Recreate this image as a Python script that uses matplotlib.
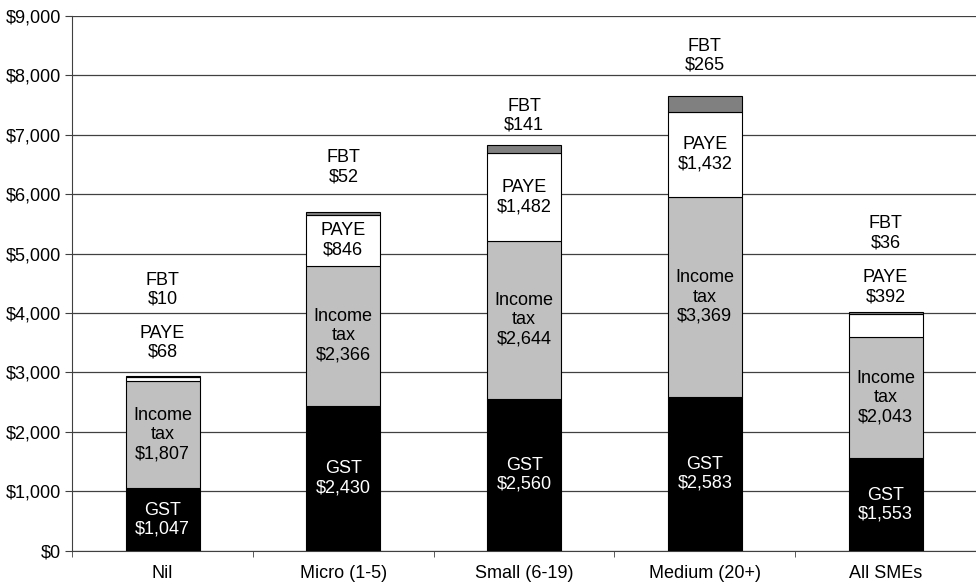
import matplotlib
matplotlib.use("Agg")
import matplotlib.pyplot as plt
import numpy as np

plt.rcParams['font.family'] = ['Liberation Sans', 'DejaVu Sans']

categories = ["Nil", "Micro (1-5)", "Small (6-19)", "Medium (20+)", "All SMEs"]
gst = [1047, 2430, 2560, 2583, 1553]
income_tax = [1807, 2366, 2644, 3369, 2043]
paye = [68, 846, 1482, 1432, 392]
fbt = [10, 52, 141, 265, 36]

# label heights (data units) for annotations placed above a bar
fbt_label_y = [4390, 6450, 7320, 8330, 5340]
paye_label_y = [3500, None, None, None, 4430]

fig = plt.figure(figsize=(9.76, 5.84), dpi=100)
ax = fig.add_axes([0.074, 0.057, 0.926, 0.916])

x = np.arange(len(categories))
w = 0.41
ec = "black"
lw = 0.8
ax.bar(x, gst, w, color="black", edgecolor=ec, linewidth=lw, zorder=3)
bottom2 = np.array(gst)
ax.bar(x, income_tax, w, bottom=bottom2, color="#c0c0c0", edgecolor=ec, linewidth=lw, zorder=3)
bottom3 = bottom2 + np.array(income_tax)
ax.bar(x, paye, w, bottom=bottom3, color="white", edgecolor=ec, linewidth=lw, zorder=3)
bottom4 = bottom3 + np.array(paye)
ax.bar(x, fbt, w, bottom=bottom4, color="#808080", edgecolor=ec, linewidth=lw, zorder=3)

fs = 13
ls = 1.16
def money(v):
    return "${:,}".format(v)

def label(xp, yp, s, color="black"):
    ax.text(xp, yp, s, ha="center", va="center", color=color, fontsize=fs,
            linespacing=ls, zorder=4)

for i in range(len(categories)):
    label(x[i], gst[i] / 2, "GST\n" + money(gst[i]), color="white")
    label(x[i], bottom2[i] + income_tax[i] / 2, "Income\ntax\n" + money(income_tax[i]))
    if paye_label_y[i] is None:
        label(x[i], bottom3[i] + paye[i] / 2, "PAYE\n" + money(paye[i]))
    else:
        label(x[i], paye_label_y[i], "PAYE\n" + money(paye[i]))
    label(x[i], fbt_label_y[i], "FBT\n" + money(fbt[i]))

ax.set_xlim(-0.5, len(categories) - 0.5)
ax.set_ylim(0, 9000)
ax.set_yticks(np.arange(0, 9001, 1000))
ax.set_yticklabels(["$" + "{:,}".format(v) for v in range(0, 9001, 1000)], fontsize=fs)
ax.set_xticks(x)
ax.set_xticklabels(categories, fontsize=fs)
ax.set_xticks(np.arange(-0.5, len(categories), 1), minor=True)
ax.tick_params(axis="x", which="major", length=0, pad=10)
ax.tick_params(axis="x", which="minor", length=4, direction="out", color="#404040")
ax.tick_params(axis="y", length=5, direction="out", color="#404040", pad=3)

ax.yaxis.grid(True, color="#404040", linewidth=0.9, zorder=0)
ax.set_axisbelow(True)
for s in ["top", "right"]:
    ax.spines[s].set_visible(False)
ax.spines["left"].set_color("#404040")
ax.spines["bottom"].set_color("#404040")

fig.savefig("out.png", dpi=100)
